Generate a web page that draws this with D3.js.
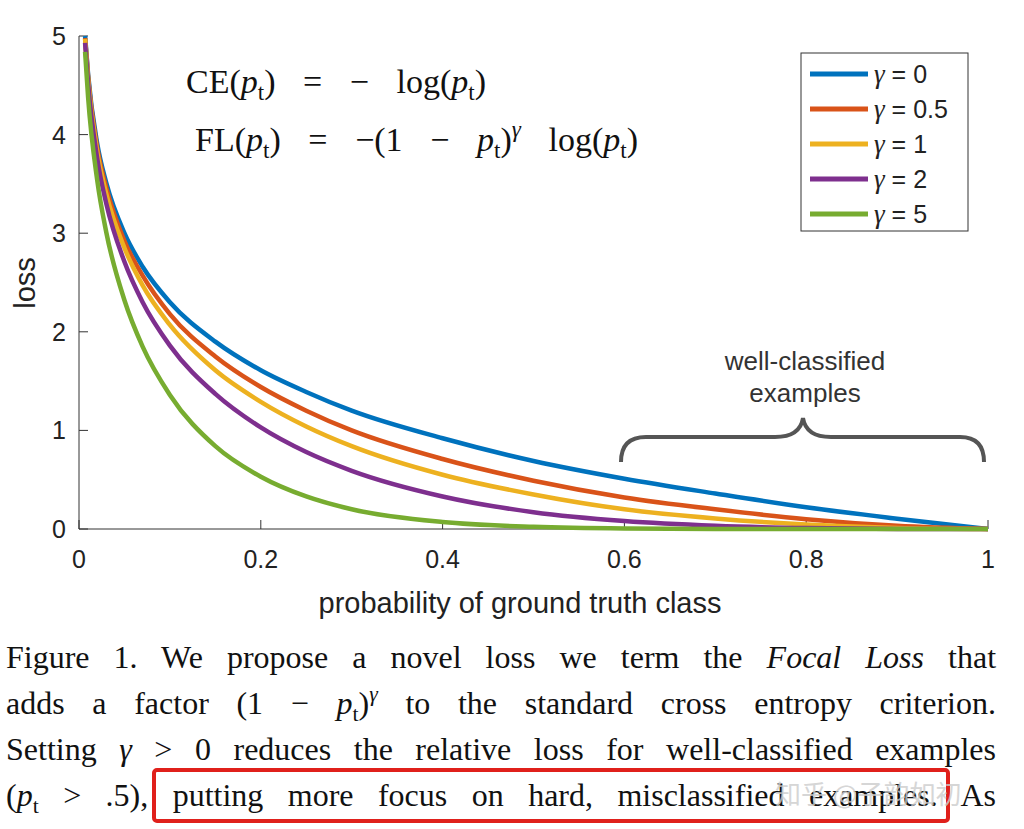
<!DOCTYPE html><html><head><meta charset="utf-8"><script src="https://cdn.jsdelivr.net/npm/d3@7"></script>
<style>body{margin:0;background:#fff}</style></head><body><svg id="c" width="1024" height="829"></svg>
<script>
const pVals=[0.0067,0.01,0.02,0.03,0.05,0.07,0.1,0.15,0.2,0.25,0.3,0.4,0.5,0.6,0.7,0.8,0.9,1.0];
const g0=[5.0,4.61,3.91,3.51,3.00,2.66,2.30,1.90,1.61,1.39,1.20,0.92,0.69,0.51,0.36,0.22,0.105,0];
const g05=[4.98,4.59,3.87,3.46,2.92,2.57,2.18,1.75,1.44,1.20,1.00,0.71,0.49,0.32,0.20,0.10,0.033,0];
const g1=[4.97,4.56,3.83,3.40,2.85,2.47,2.07,1.61,1.29,1.04,0.84,0.55,0.35,0.20,0.107,0.045,0.0105,0];
const g2=[4.93,4.52,3.76,3.30,2.71,2.30,1.86,1.37,1.03,0.78,0.59,0.33,0.17,0.08,0.032,0.009,0.001,0];
const g5=[4.84,4.38,3.54,3.01,2.32,1.85,1.36,0.84,0.53,0.33,0.20,0.071,0.022,0.005,0.0009,0.0001,0,0];
const seriesNames=["0","0.5","1","2","5"];
const seriesColors=["#0072BD","#D95319","#EDB120","#7E2F8E","#77AC30"];
const seriesData=[g0,g05,g1,g2,g5];
const xTicks=[0,0.2,0.4,0.6,0.8,1];
const yTicks=[0,1,2,3,4,5];
const svg=d3.select("#c");
const x=d3.scaleLinear().domain([0,1]).range([79,988]);
const y=d3.scaleLinear().domain([0,5]).range([529,36]);
const ff="'Liberation Sans','Open Sans',sans-serif";
const sf="'Liberation Serif','Times New Roman',serif";
svg.append("line").attr("x1",79).attr("x2",79).attr("y1",36).attr("y2",529).attr("stroke","#333");
svg.append("line").attr("x1",79).attr("x2",988).attr("y1",529).attr("y2",529).attr("stroke","#333");
xTicks.forEach(t=>{svg.append("line").attr("x1",x(t)).attr("x2",x(t)).attr("y1",529).attr("y2",520).attr("stroke","#333");
 svg.append("text").attr("x",x(t)).attr("y",568).attr("text-anchor","middle").attr("font-family",ff).attr("font-size",25).attr("fill","#222").text(t);});
yTicks.forEach(t=>{svg.append("line").attr("x1",79).attr("x2",88).attr("y1",y(t)).attr("y2",y(t)).attr("stroke","#333");
 svg.append("text").attr("x",66).attr("y",y(t)+9).attr("text-anchor","end").attr("font-family",ff).attr("font-size",25).attr("fill","#222").text(t);});
svg.append("text").attr("x",520).attr("y",613).attr("text-anchor","middle").attr("font-family",ff).attr("font-size",29).attr("fill","#222").text("probability of ground truth class");
svg.append("text").attr("transform","translate(35,283) rotate(-90)").attr("text-anchor","middle").attr("font-family",ff).attr("font-size",29).attr("fill","#222").text("loss");
const line=d3.line().x((d,i)=>x(pVals[i])).y(d=>y(d)).curve(d3.curveMonotoneX);
seriesData.forEach((s,i)=>svg.append("path").attr("d",line(s)).attr("fill","none").attr("stroke",seriesColors[i]).attr("stroke-width",4.5));
svg.append("rect").attr("x",801).attr("y",53).attr("width",167).attr("height",178).attr("fill","#fff").attr("stroke","#333");
seriesNames.forEach((n,i)=>{const yy=74+i*35;
 svg.append("line").attr("x1",810).attr("x2",868).attr("y1",yy).attr("y2",yy).attr("stroke",seriesColors[i]).attr("stroke-width",5);
 const t=svg.append("text").attr("x",874).attr("y",yy+9).attr("font-family",ff).attr("font-size",25).attr("fill","#222");
 t.append("tspan").attr("font-family",sf).attr("font-style","italic").attr("font-size",27).text("γ");t.append("tspan").text(" = "+n);});
// rich text helper: segs [text, style]; styles: "", "i", "sub", "sup"
function rich(xp,yp,size,segs,width){
 const t=svg.append("text").attr("x",xp).attr("y",yp).attr("font-family",sf).attr("font-size",size).attr("fill","#111").style("white-space","pre");
 let shift=0;
 segs.forEach(s=>{const sp=t.append("tspan").text(s[0]);let target=0;
  if(s[1]==="i")sp.attr("font-style","italic");
  if(s[1]==="sub"){sp.attr("font-size",size*0.68);target=size*0.22;}
  if(s[1]==="sup"){sp.attr("font-size",size*0.68).attr("font-style","italic");target=-size*0.42;}
  if(target!==shift){sp.attr("dy",target-shift);shift=target;}
 });
 if(width){const w=t.node().getComputedTextLength();const n=(t.text().match(/ /g)||[]).length;if(n)t.attr("word-spacing",(width-w)/n);}
 return t;}
rich(186,93,34,[["CE(",""],["p","i"],["t","sub"],[") = − log(",""],["p","i"],["t","sub"],[")",""]],300);
rich(195,151,34,[["FL(",""],["p","i"],["t","sub"],[") = −(1 − ",""],["p","i"],["t","sub"],[")",""],["γ","sup"],[" log(",""],["p","i"],["t","sub"],[")",""]],443);
svg.append("text").attr("x",805).attr("y",370).attr("text-anchor","middle").attr("font-family",ff).attr("font-size",26).attr("fill","#333").text("well-classified");
svg.append("text").attr("x",805).attr("y",402).attr("text-anchor","middle").attr("font-family",ff).attr("font-size",26).attr("fill","#333").text("examples");
svg.append("path").attr("d","M621,462 Q621,437 646,437 L775,437 Q800,437 803,418 Q806,437 831,437 L960,437 Q984,437 984,462").attr("fill","none").attr("stroke","#555").attr("stroke-width",4);
const lines=[
 [["Figure 1. We propose a novel loss we term the ",""],["Focal Loss","i"],[" that",""]],
 [["adds a factor (1 − ",""],["p","i"],["t","sub"],[")",""],["γ","sup"],[" to the standard cross entropy criterion.",""]],
 [["Setting ",""],["γ","i"],[" > 0 reduces the relative loss for well-classified examples",""]],
 [["(",""],["p","i"],["t","sub"],[" > .5), putting more focus on hard, misclassified examples. As",""]]];
lines.forEach((segs,i)=>rich(6,668+i*46,32,segs,990));
svg.append("rect").attr("x",154).attr("y",770).attr("width",794).attr("height",51).attr("fill","none").attr("stroke","#e0201b").attr("stroke-width",4).attr("rx",3);
svg.append("text").attr("x",775).attr("y",804).attr("font-family","'Noto Sans CJK SC',sans-serif").attr("font-size",26).attr("fill","#ccc").attr("opacity",0.8).text("知乎 @子韵如初");
</script></body></html>
